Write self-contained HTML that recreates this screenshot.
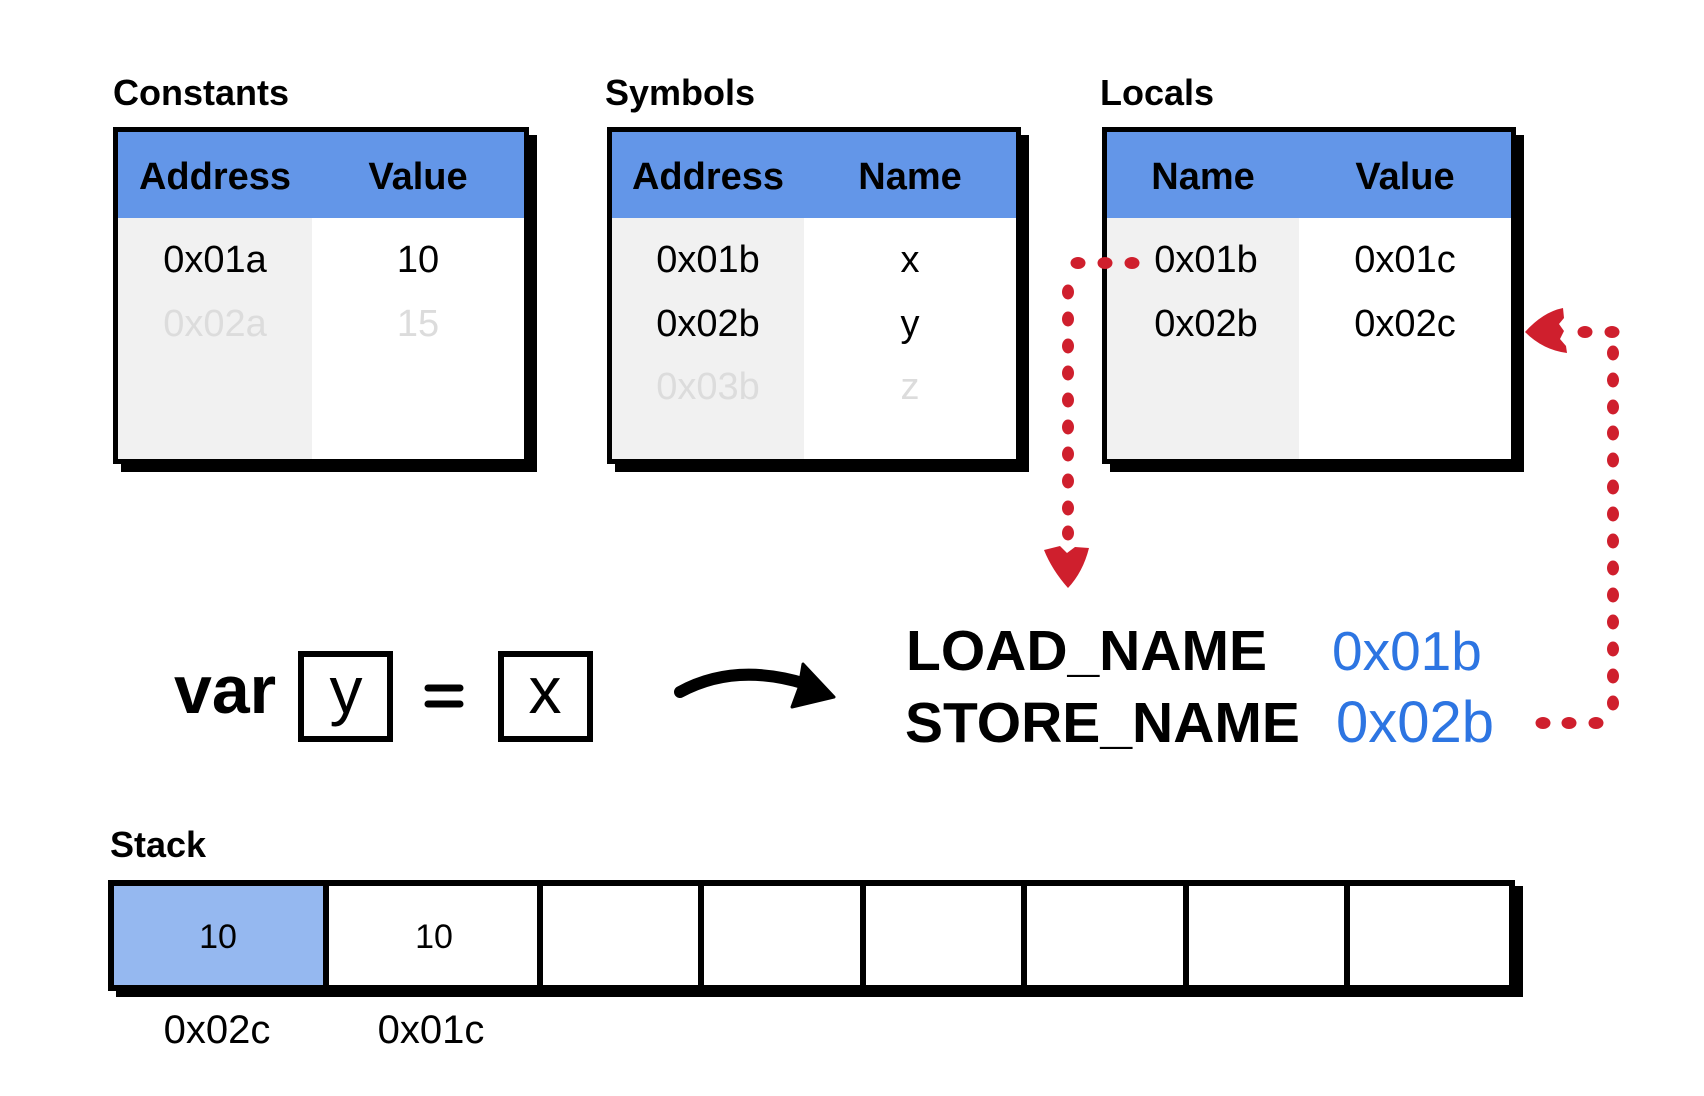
<!DOCTYPE html>
<html>
<head>
<meta charset="utf-8">
<style>
  html, body { margin:0; padding:0; background:#fff; }
  body { width:1704px; height:1096px; overflow:hidden; position:relative; }
  svg { position:absolute; left:0; top:0; }
  text { font-family: "Liberation Sans", Arial, sans-serif; }
</style>
</head>
<body>
<svg width="1704" height="1096" viewBox="0 0 1704 1096" xmlns="http://www.w3.org/2000/svg">
  <rect x="0" y="0" width="1704" height="1096" fill="#fff"/>

  <!-- ===== Constants table ===== -->
  <rect x="121" y="135" width="416" height="337" fill="#000"/>
  <rect x="113" y="127" width="416" height="337" fill="#000"/>
  <rect x="118" y="132" width="406" height="327" fill="#fff"/>
  <rect x="118" y="132" width="406" height="86" fill="#6396e8"/>
  <rect x="118" y="218" width="194" height="241" fill="#f1f1f1"/>

  <!-- ===== Symbols table ===== -->
  <rect x="615" y="135" width="414" height="337" fill="#000"/>
  <rect x="607" y="127" width="414" height="337" fill="#000"/>
  <rect x="612" y="132" width="404" height="327" fill="#fff"/>
  <rect x="612" y="132" width="404" height="86" fill="#6396e8"/>
  <rect x="612" y="218" width="192" height="241" fill="#f1f1f1"/>

  <!-- ===== Locals table ===== -->
  <rect x="1110" y="135" width="414" height="337" fill="#000"/>
  <rect x="1102" y="127" width="414" height="337" fill="#000"/>
  <rect x="1107" y="132" width="404" height="327" fill="#fff"/>
  <rect x="1107" y="132" width="404" height="86" fill="#6396e8"/>
  <rect x="1107" y="218" width="192" height="241" fill="#f1f1f1"/>

  <!-- Titles -->
  <text x="113" y="105" font-size="36" font-weight="bold" fill="#000">Constants</text>
  <text x="605" y="105" font-size="36" font-weight="bold" fill="#000">Symbols</text>
  <text x="1100" y="105" font-size="36" font-weight="bold" fill="#000">Locals</text>

  <!-- Headers -->
  <g font-size="38" font-weight="bold" fill="#000" text-anchor="middle">
    <text x="215" y="189">Address</text>
    <text x="418" y="189">Value</text>
    <text x="708" y="189">Address</text>
    <text x="910" y="189">Name</text>
    <text x="1203" y="189">Name</text>
    <text x="1405" y="189">Value</text>
  </g>

  <!-- Rows -->
  <g font-size="38" text-anchor="middle">
    <text x="215" y="272" fill="#000">0x01a</text>
    <text x="418" y="272" fill="#000">10</text>
    <text x="215" y="336" fill="#dcdcdc">0x02a</text>
    <text x="418" y="336" fill="#dcdcdc">15</text>

    <text x="708" y="272" fill="#000">0x01b</text>
    <text x="910" y="272" fill="#000">x</text>
    <text x="708" y="336" fill="#000">0x02b</text>
    <text x="910" y="336" fill="#000">y</text>
    <text x="708" y="399" fill="#dcdcdc">0x03b</text>
    <text x="910" y="399" fill="#dcdcdc">z</text>

    <text x="1206" y="272" fill="#000">0x01b</text>
    <text x="1405" y="272" fill="#000">0x01c</text>
    <text x="1206" y="336" fill="#000">0x02b</text>
    <text x="1405" y="336" fill="#000">0x02c</text>
  </g>

  <!-- ===== var y = x ===== -->
  <text x="174" y="713" font-size="68" font-weight="bold" fill="#000">var</text>
  <rect x="301" y="654" width="89" height="85" fill="none" stroke="#000" stroke-width="6"/>
  <text x="346" y="713" font-size="66" text-anchor="middle" fill="#000">y</text>
  <line x1="428" y1="688" x2="460" y2="688" stroke="#000" stroke-width="7" stroke-linecap="round"/>
  <line x1="428" y1="704" x2="460" y2="704" stroke="#000" stroke-width="7" stroke-linecap="round"/>
  <rect x="501" y="654" width="89" height="85" fill="none" stroke="#000" stroke-width="6"/>
  <text x="545" y="713" font-size="66" text-anchor="middle" fill="#000">x</text>

  <!-- curved arrow -->
  <path d="M680,692 Q735,662 806,684" fill="none" stroke="#000" stroke-width="12" stroke-linecap="round"/>
  <path d="M803,664 L834,697 L792,707 L799,688 Z" fill="#000" stroke="#000" stroke-width="3" stroke-linejoin="round"/>

  <!-- instructions -->
  <text x="906" y="670" font-size="57" font-weight="bold" fill="#000">LOAD_NAME</text>
  <text x="905" y="742" font-size="57" font-weight="bold" fill="#000">STORE_NAME</text>
  <text x="1332" y="670" font-size="55" fill="#2d75e2">0x01b</text>
  <text x="1336" y="742" font-size="58" fill="#2d75e2">0x02b</text>

  <!-- ===== Red connectors ===== -->
  <g fill="#cf1f2d">
    <!-- connector 1: horizontal -->
    <ellipse cx="1078" cy="263" rx="7.5" ry="6"/>
    <ellipse cx="1105" cy="263" rx="7.5" ry="6"/>
    <ellipse cx="1132" cy="263" rx="7.5" ry="6"/>
    <!-- connector 1: vertical -->
    <ellipse cx="1068" cy="292" rx="6" ry="7.5"/>
    <ellipse cx="1068" cy="319" rx="6" ry="7.5"/>
    <ellipse cx="1068" cy="346" rx="6" ry="7.5"/>
    <ellipse cx="1068" cy="373" rx="6" ry="7.5"/>
    <ellipse cx="1068" cy="400" rx="6" ry="7.5"/>
    <ellipse cx="1068" cy="427" rx="6" ry="7.5"/>
    <ellipse cx="1068" cy="454" rx="6" ry="7.5"/>
    <ellipse cx="1068" cy="481" rx="6" ry="7.5"/>
    <ellipse cx="1068" cy="508" rx="6" ry="7.5"/>
    <ellipse cx="1068" cy="533" rx="6" ry="7.5"/>
    <!-- down arrowhead -->
    <path d="M1044,550 L1060,546 L1067,553 L1075,547 L1089,548 Q1083,572 1068,588 Q1052,570 1044,550 Z"/>

    <!-- connector 2: bottom horizontal -->
    <ellipse cx="1543" cy="723" rx="7.5" ry="6"/>
    <ellipse cx="1569" cy="723" rx="7.5" ry="6"/>
    <ellipse cx="1596" cy="723" rx="7.5" ry="6"/>
    <!-- connector 2: vertical -->
    <ellipse cx="1613" cy="703" rx="6" ry="7.5"/>
    <ellipse cx="1613" cy="676" rx="6" ry="7.5"/>
    <ellipse cx="1613" cy="649" rx="6" ry="7.5"/>
    <ellipse cx="1613" cy="622" rx="6" ry="7.5"/>
    <ellipse cx="1613" cy="595" rx="6" ry="7.5"/>
    <ellipse cx="1613" cy="568" rx="6" ry="7.5"/>
    <ellipse cx="1613" cy="541" rx="6" ry="7.5"/>
    <ellipse cx="1613" cy="514" rx="6" ry="7.5"/>
    <ellipse cx="1613" cy="487" rx="6" ry="7.5"/>
    <ellipse cx="1613" cy="460" rx="6" ry="7.5"/>
    <ellipse cx="1613" cy="433" rx="6" ry="7.5"/>
    <ellipse cx="1613" cy="407" rx="6" ry="7.5"/>
    <ellipse cx="1613" cy="380" rx="6" ry="7.5"/>
    <ellipse cx="1613" cy="353" rx="6" ry="7.5"/>
    <!-- connector 2: top horizontal -->
    <ellipse cx="1612" cy="332" rx="7.5" ry="6"/>
    <ellipse cx="1585" cy="332" rx="7.5" ry="6"/>
    <!-- left arrowhead -->
    <path d="M1525,332 Q1543,312 1563,308 L1564,318 L1559,324 L1564,331 L1560,339 L1566,346 L1567,353 Q1543,350 1525,332 Z"/>
  </g>

  <!-- ===== Stack ===== -->
  <text x="110" y="857" font-size="36" font-weight="bold" fill="#000">Stack</text>
  <rect x="116" y="886" width="1407" height="111" fill="#000"/>
  <rect x="108" y="880" width="1407" height="111" fill="#000"/>
  <rect x="114" y="886" width="1395" height="99" fill="#fff"/>
  <rect x="114" y="886" width="209" height="99" fill="#95b8f0"/>
  <g fill="#000">
    <rect x="323" y="886" width="6" height="99"/>
    <rect x="537" y="886" width="6" height="99"/>
    <rect x="698" y="886" width="6" height="99"/>
    <rect x="860" y="886" width="6" height="99"/>
    <rect x="1021" y="886" width="6" height="99"/>
    <rect x="1183" y="886" width="6" height="99"/>
    <rect x="1344" y="886" width="6" height="99"/>
  </g>
  <g font-size="34" text-anchor="middle" fill="#000">
    <text x="218" y="948">10</text>
    <text x="434" y="948">10</text>
  </g>
  <g font-size="40" text-anchor="middle" fill="#000">
    <text x="217" y="1043">0x02c</text>
    <text x="431" y="1043">0x01c</text>
  </g>
</svg>
</body>
</html>
